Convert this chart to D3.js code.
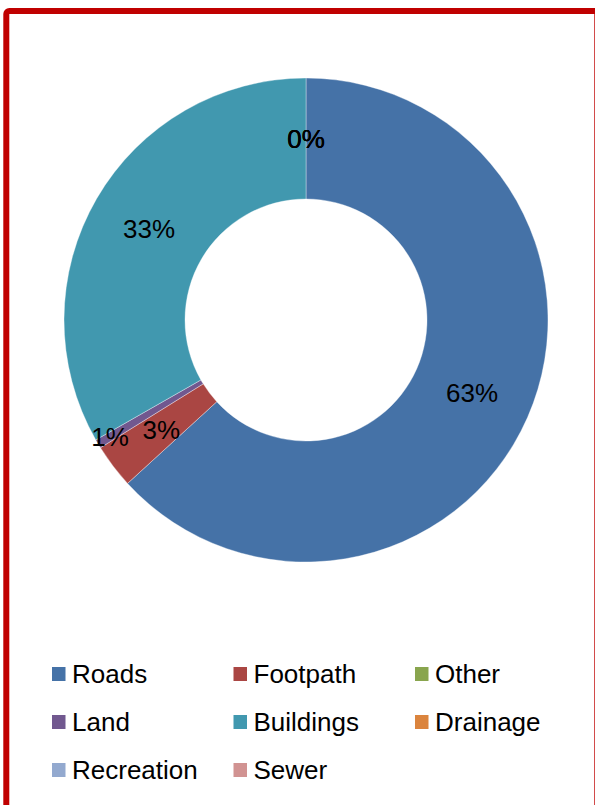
<!DOCTYPE html>
<html>
<head>
<meta charset="utf-8">
<script src="https://cdn.jsdelivr.net/npm/d3@7"></script>
<style>
  html, body { margin: 0; padding: 0; background: #fff; }
  svg { display: block; }
  text { font-family: "Liberation Sans", Arial, sans-serif; fill: #000; }
</style>
</head>
<body>
<svg id="chart" width="595" height="805"></svg>
<script>
// Cost share by asset category
const categories = ["Roads", "Footpath", "Other", "Land", "Buildings", "Drainage", "Recreation", "Sewer"];
const values     = [63.2, 2.95, 0, 0.6, 33.25, 0, 0, 0];
const colors     = ["#4572A7", "#AA4643", "#89A54E", "#71588F", "#4198AF", "#DB843D", "#93A9CF", "#D19392"];
// Slices whose label is shown (the "Other" label is hidden)
const showLabel  = [true, true, false, true, true, true, true, true];

const svg = d3.select("#chart");

// Frame
svg.append("rect")
  .attr("x", 6.3).attr("y", 11)
  .attr("width", 591).attr("height", 820)
  .attr("rx", 3)
  .attr("fill", "none")
  .attr("stroke", "#C00000")
  .attr("stroke-width", 6);

const cx = 306, cy = 320;
const outerR = 242, innerR = 121;

const data = categories.map((c, i) => ({ name: c, value: values[i], color: colors[i], show: showLabel[i] }));
const total = d3.sum(values);

const pie = d3.pie().value(d => d.value).sort(null);
const arcs = pie(data);
const arc = d3.arc().innerRadius(innerR).outerRadius(outerR);

const g = svg.append("g").attr("transform", `translate(${cx},${cy})`);

g.selectAll("path.slice")
  .data(arcs.filter(a => a.data.value > 0))
  .join("path")
  .attr("class", "slice")
  .attr("d", arc)
  .attr("fill", d => d.data.color)
  .attr("stroke", "#fff")
  .attr("stroke-width", 0.6)
  .attr("stroke-opacity", 0.6);

// Percentage labels; very thin slices get pushed toward the outer edge
const midR = (innerR + outerR) / 2;
g.selectAll("text.pct")
  .data(arcs.filter(a => a.data.show))
  .join("text")
  .attr("class", "pct")
  .attr("transform", d => {
    const pct = d.data.value / total * 100;
    const r = (pct > 0 && pct < 2) ? 228 : midR;
    const a = (d.startAngle + d.endAngle) / 2;
    return `translate(${Math.sin(a) * r},${-Math.cos(a) * r})`;
  })
  .attr("text-anchor", "middle")
  .attr("dominant-baseline", "central")
  .style("font-size", "26px")
  .text(d => Math.round(d.data.value / total * 100) + "%");

// Legend: 3 columns, row-wise
const legend = svg.append("g");
const colX = [52, 233.5, 415];
const rowY = [667, 715, 763];
const items = legend.selectAll("g.item")
  .data(data)
  .join("g")
  .attr("class", "item")
  .attr("transform", (d, i) => `translate(${colX[i % 3]},${rowY[Math.floor(i / 3)]})`);

items.append("rect")
  .attr("width", 13.5).attr("height", 14)
  .attr("fill", d => d.color);

items.append("text")
  .attr("x", 20).attr("y", 15.5)
  .style("font-size", "26px")
  .text(d => d.name);
</script>
</body>
</html>
